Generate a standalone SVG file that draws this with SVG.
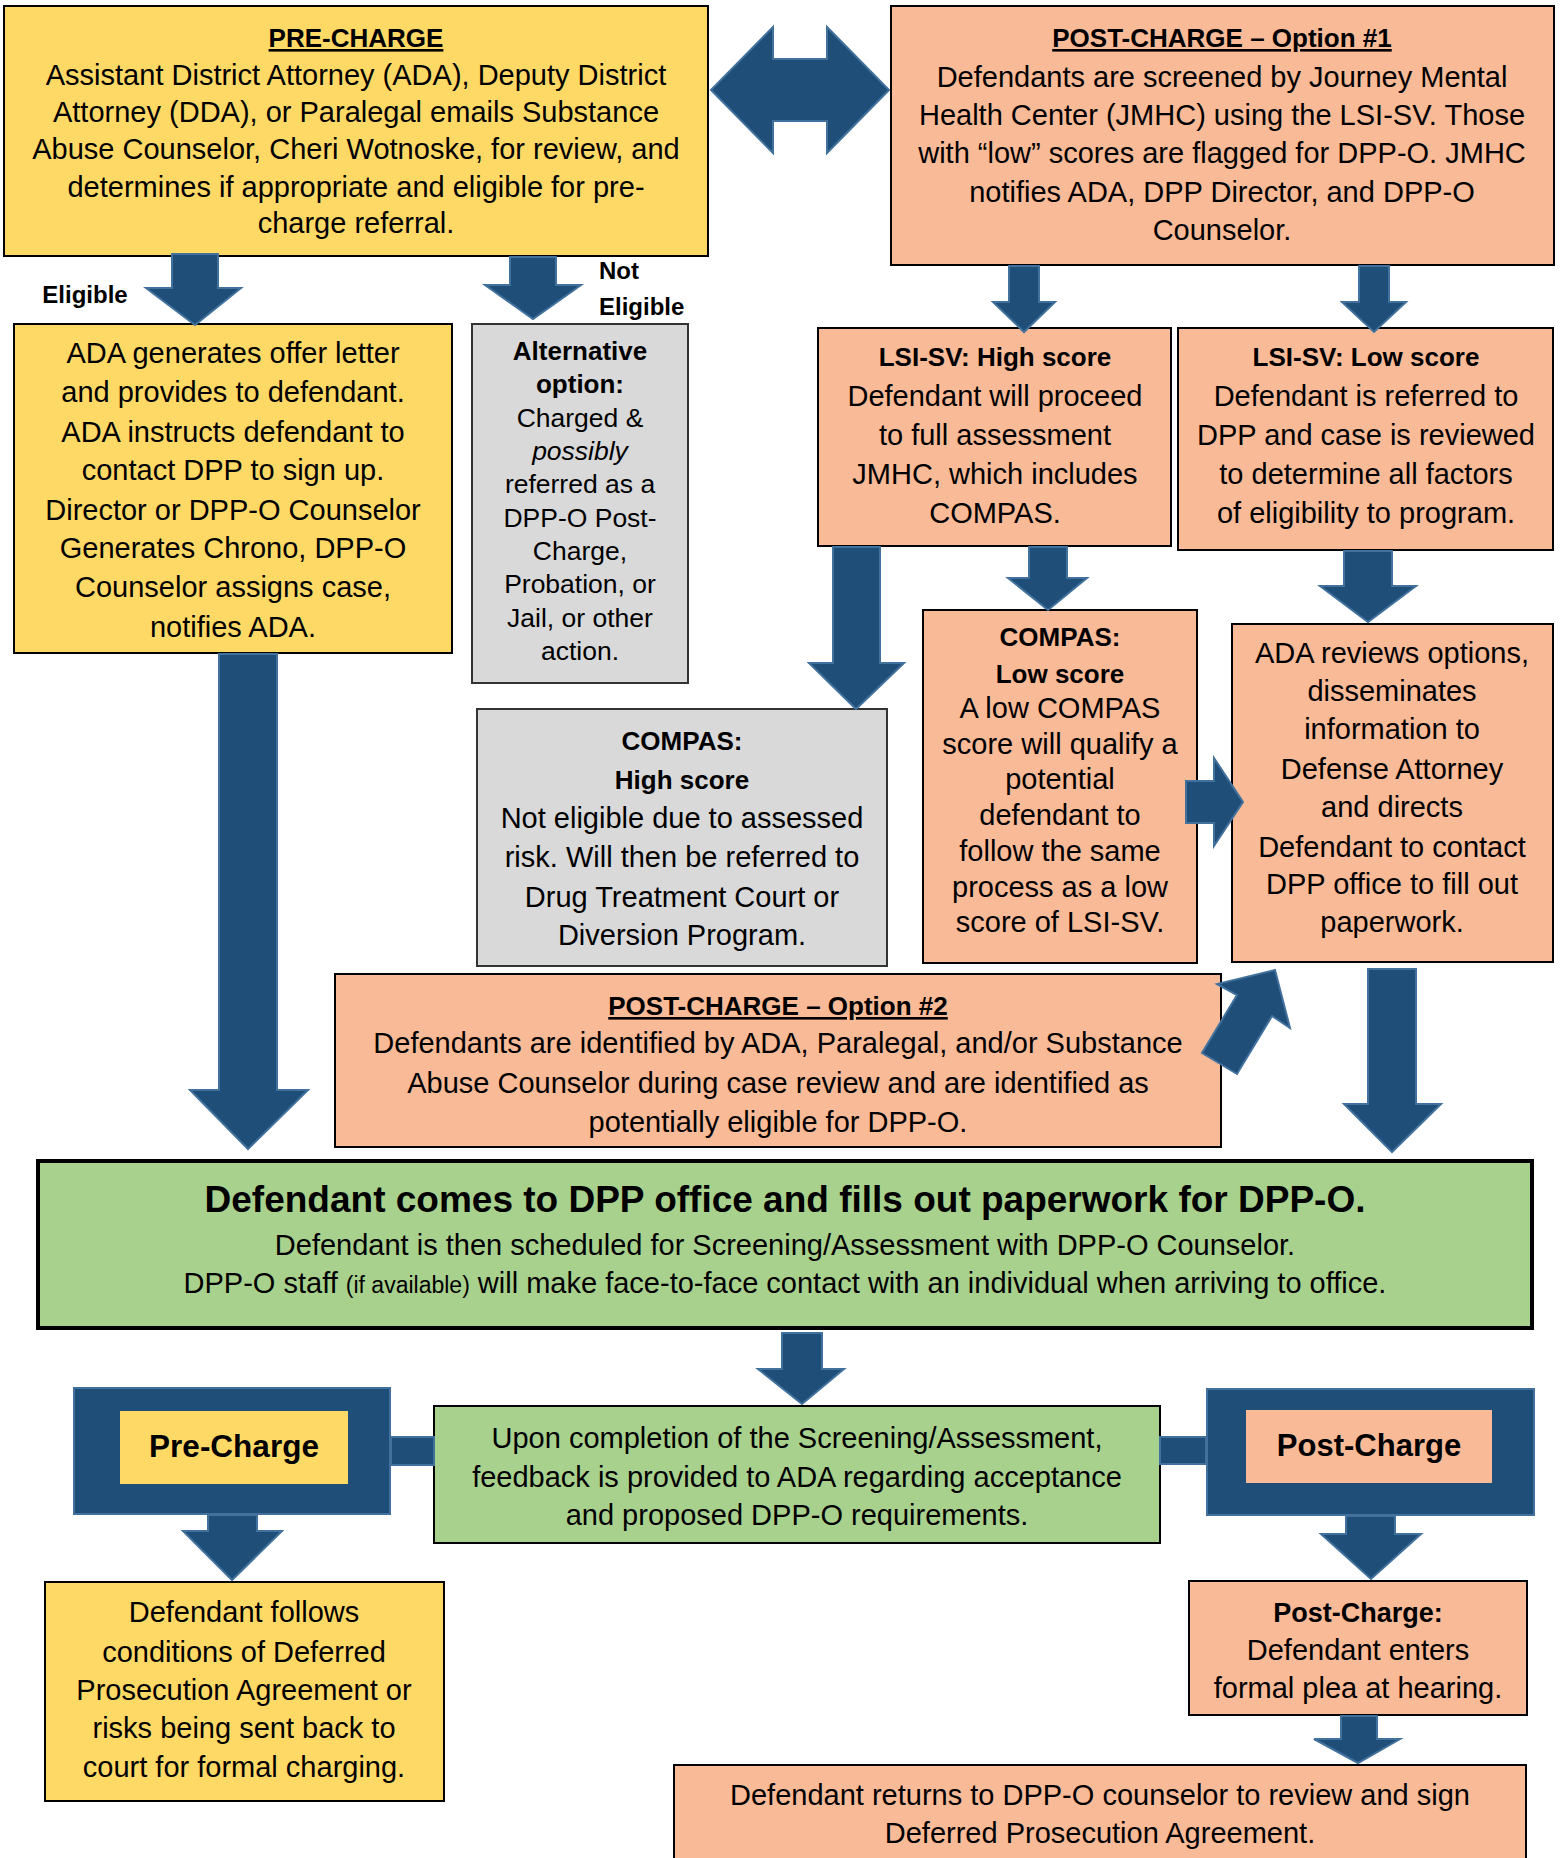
<svg xmlns="http://www.w3.org/2000/svg" width="1564" height="1858" viewBox="0 0 1564 1858">
<style>
text{font-family:"Liberation Sans",Arial,sans-serif;fill:#000;text-anchor:middle;font-size:29px}
.b{font-weight:bold;font-size:26px}
.u{text-decoration:underline}
.bx{stroke:#000;stroke-width:2}
.y{fill:#FFD966}.s{fill:#F9BA97}.g{fill:#A9D18E}.gr{fill:#D9D9D9;stroke:#333}
.ar{fill:#1F4E79;stroke:#41719C;stroke-width:2;stroke-linejoin:miter}
.sm{font-size:26.5px}
</style>
<rect width="1564" height="1858" fill="#fff"/>

<g id="pre-charge">
<rect class="bx y" x="4" y="6" width="704" height="250"/>
<text class="b u" x="356" y="47">PRE-CHARGE</text>
<text x="356" y="85">Assistant District Attorney (ADA), Deputy District</text>
<text x="356" y="122">Attorney (DDA), or Paralegal emails Substance</text>
<text x="356" y="159">Abuse Counselor, Cheri Wotnoske, for review, and</text>
<text x="356" y="197">determines if appropriate and eligible for pre-</text>
<text x="356" y="233">charge referral.</text>
</g>

<g id="post-charge-1">
<rect class="bx s" x="891" y="6" width="663" height="259"/>
<text class="b u" x="1222" y="47">POST-CHARGE – Option #1</text>
<text x="1222" y="87">Defendants are screened by Journey Mental</text>
<text x="1222" y="125">Health Center (JMHC) using the LSI-SV. Those</text>
<text x="1222" y="163">with “low” scores are flagged for DPP-O. JMHC</text>
<text x="1222" y="202">notifies ADA, DPP Director, and DPP-O</text>
<text x="1222" y="240">Counselor.</text>
</g>

<g id="label-eligible">
<text class="b" x="85" y="303" style="font-size:24px">Eligible</text>
</g>
<g id="label-not-eligible">
<text class="b" x="599" y="279" style="font-size:24px;text-anchor:start">Not</text>
<text class="b" x="599" y="315" style="font-size:24px;text-anchor:start">Eligible</text>
</g>

<g id="ada-offer">
<rect class="bx y" x="14" y="324" width="438" height="329"/>
<text x="233" y="363">ADA generates offer letter</text>
<text x="233" y="402">and provides to defendant.</text>
<text x="233" y="442">ADA instructs defendant to</text>
<text x="233" y="480">contact DPP to sign up.</text>
<text x="233" y="520">Director or DPP-O Counselor</text>
<text x="233" y="558">Generates Chrono, DPP-O</text>
<text x="233" y="597">Counselor assigns case,</text>
<text x="233" y="637">notifies ADA.</text>
</g>

<g id="alternative">
<rect class="bx gr" x="472" y="324" width="216" height="359"/>
<text class="b" x="580" y="360">Alternative</text>
<text class="b" x="580" y="393">option:</text>
<text class="sm" x="580" y="427">Charged &amp;</text>
<text class="sm" x="580" y="460" style="font-style:italic">possibly</text>
<text class="sm" x="580" y="493">referred as a</text>
<text class="sm" x="580" y="527">DPP-O Post-</text>
<text class="sm" x="580" y="560">Charge,</text>
<text class="sm" x="580" y="593">Probation, or</text>
<text class="sm" x="580" y="627">Jail, or other</text>
<text class="sm" x="580" y="660">action.</text>
</g>

<g id="lsi-high">
<rect class="bx s" x="818" y="328" width="353" height="218"/>
<text class="b" x="995" y="366">LSI-SV: High score</text>
<text x="995" y="406">Defendant will proceed</text>
<text x="995" y="445">to full assessment</text>
<text x="995" y="484">JMHC, which includes</text>
<text x="995" y="523">COMPAS.</text>
</g>

<g id="lsi-low">
<rect class="bx s" x="1178" y="328" width="375" height="222"/>
<text class="b" x="1366" y="366">LSI-SV: Low score</text>
<text x="1366" y="406">Defendant is referred to</text>
<text x="1366" y="445">DPP and case is reviewed</text>
<text x="1366" y="484">to determine all factors</text>
<text x="1366" y="523">of eligibility to program.</text>
</g>

<g id="compas-high">
<rect class="bx gr" x="477" y="709" width="410" height="257"/>
<text class="b" x="682" y="750">COMPAS:</text>
<text class="b" x="682" y="789">High score</text>
<text x="682" y="828">Not eligible due to assessed</text>
<text x="682" y="867">risk. Will then be referred to</text>
<text x="682" y="907">Drug Treatment Court or</text>
<text x="682" y="945">Diversion Program.</text>
</g>

<g id="compas-low">
<rect class="bx s" x="923" y="610" width="274" height="353"/>
<text class="b" x="1060" y="646">COMPAS:</text>
<text class="b" x="1060" y="683">Low score</text>
<text x="1060" y="718">A low COMPAS</text>
<text x="1060" y="754">score will qualify a</text>
<text x="1060" y="789">potential</text>
<text x="1060" y="825">defendant to</text>
<text x="1060" y="861">follow the same</text>
<text x="1060" y="897">process as a low</text>
<text x="1060" y="932">score of LSI-SV.</text>
</g>

<g id="ada-reviews">
<rect class="bx s" x="1232" y="624" width="321" height="338"/>
<text x="1392" y="663">ADA reviews options,</text>
<text x="1392" y="701">disseminates</text>
<text x="1392" y="739">information to</text>
<text x="1392" y="779">Defense Attorney</text>
<text x="1392" y="817">and directs</text>
<text x="1392" y="857">Defendant to contact</text>
<text x="1392" y="894">DPP office to fill out</text>
<text x="1392" y="932">paperwork.</text>
</g>

<g id="post-charge-2">
<rect class="bx s" x="335" y="974" width="886" height="173"/>
<text class="b u" x="778" y="1015">POST-CHARGE – Option #2</text>
<text x="778" y="1053">Defendants are identified by ADA, Paralegal, and/or Substance</text>
<text x="778" y="1093">Abuse Counselor during case review and are identified as</text>
<text x="778" y="1132">potentially eligible for DPP-O.</text>
</g>

<g id="dpp-office">
<rect class="g" x="38" y="1161" width="1494" height="167" stroke="#000" stroke-width="4"/>
<text class="b" x="785" y="1212" style="font-size:37px">Defendant comes to DPP office and fills out paperwork for DPP-O.</text>
<text x="785" y="1255">Defendant is then scheduled for Screening/Assessment with DPP-O Counselor.</text>
<text x="785" y="1293">DPP-O staff <tspan style="font-size:23px">(if available)</tspan> will make face-to-face contact with an individual when arriving to office.</text>
</g>

<g id="feedback">
<rect class="bx g" x="434" y="1406" width="726" height="137"/>
<text x="797" y="1448">Upon completion of the Screening/Assessment,</text>
<text x="797" y="1487">feedback is provided to ADA regarding acceptance</text>
<text x="797" y="1525">and proposed DPP-O requirements.</text>
</g>

<g id="pre-charge-tag">
<rect class="ar" x="74" y="1388" width="316" height="126"/>
<rect class="y" x="120" y="1411" width="228" height="73"/>
<text class="b" x="234" y="1457" style="font-size:31.5px">Pre-Charge</text>
</g>

<g id="post-charge-tag">
<rect class="ar" x="1207" y="1389" width="327" height="126"/>
<rect class="s" x="1246" y="1410" width="246" height="73"/>
<text class="b" x="1369" y="1456" style="font-size:31px">Post-Charge</text>
</g>

<g id="pre-outcome">
<rect class="bx y" x="45" y="1582" width="399" height="219"/>
<text x="244" y="1622">Defendant follows</text>
<text x="244" y="1662">conditions of Deferred</text>
<text x="244" y="1700">Prosecution Agreement or</text>
<text x="244" y="1738">risks being sent back to</text>
<text x="244" y="1777">court for formal charging.</text>
</g>

<g id="post-plea">
<rect class="bx s" x="1189" y="1581" width="338" height="134"/>
<text class="b" x="1358" y="1622" style="font-size:27px">Post-Charge:</text>
<text x="1358" y="1660">Defendant enters</text>
<text x="1358" y="1698">formal plea at hearing.</text>
</g>

<g id="sign-agreement">
<rect class="bx s" x="674" y="1765" width="852" height="110"/>
<text x="1100" y="1805">Defendant returns to DPP-O counselor to review and sign</text>
<text x="1100" y="1843">Deferred Prosecution Agreement.</text>
</g>

<g id="connectors">
<polygon class="ar" points="711,90 773,27 773,59 827,59 827,27 889,90 827,153 827,121 773,121 773,153"/>
<polygon class="ar" points="172,254 218,254 218,288 241,288 195,325 146,288 172,288"/>
<polygon class="ar" points="510,257 556,257 556,285 581,285 533,319 485,285 510,285"/>
<polygon class="ar" points="1009,266 1039,266 1039,302 1055,302 1024,332 993,302 1009,302"/>
<polygon class="ar" points="1359,266 1389,266 1389,302 1406,302 1374,332 1342,302 1359,302"/>
<polygon class="ar" points="833,547 880,547 880,663 904,663 856,709 809,663 833,663"/>
<polygon class="ar" points="1029,547 1067,547 1067,578 1087,578 1048,610 1008,578 1029,578"/>
<polygon class="ar" points="1344,551 1392,551 1392,586 1416,586 1368,622 1320,586 1344,586"/>
<polygon class="ar" points="219,654 277,654 277,1090 308,1090 248,1149 190,1090 219,1090"/>
<polygon class="ar" points="1186,781 1214,781 1214,758 1243,802 1214,846 1214,823 1186,823"/>
<polygon class="ar" points="1275,970 1290,1028 1272,1016 1237,1074 1202,1053 1237,995 1217,984"/>
<polygon class="ar" points="1368,969 1416,969 1416,1104 1441,1104 1392,1152 1344,1104 1368,1104"/>
<polygon class="ar" points="782,1333 822,1333 822,1369 844,1369 802,1404 758,1369 782,1369"/>
<polygon class="ar" points="208,1515 257,1515 257,1531 282,1531 232,1580 183,1531 208,1531"/>
<polygon class="ar" points="1346,1516 1395,1516 1395,1534 1421,1534 1371,1579 1321,1534 1346,1534"/>
<polygon class="ar" points="1341,1716 1377,1716 1377,1739 1400,1739 1358,1763 1314,1739 1341,1739"/>
<rect class="ar" x="391" y="1437" width="43" height="28"/>
<rect class="ar" x="1160" y="1437" width="46" height="27"/>
</g>
</svg>
